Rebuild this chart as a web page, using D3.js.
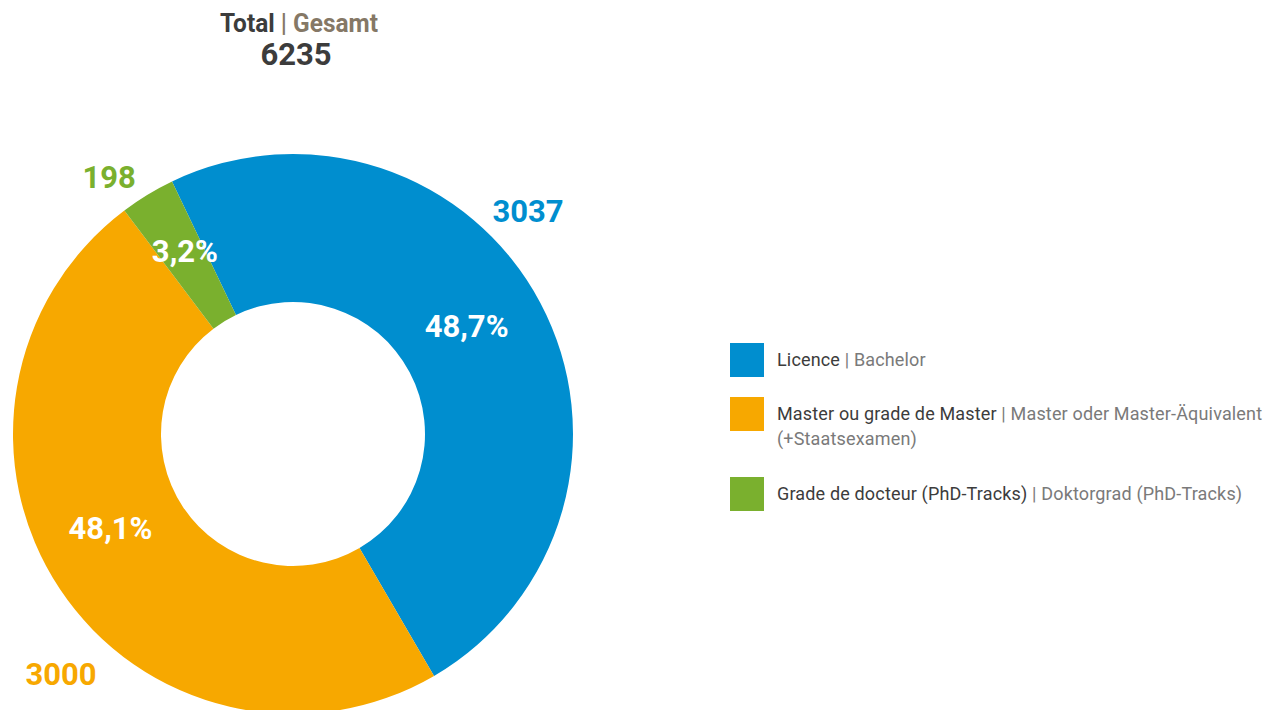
<!DOCTYPE html>
<html>
<head>
<meta charset="utf-8">
<script src="https://cdn.jsdelivr.net/npm/d3@7"></script>
<style>
  html, body { margin: 0; padding: 0; background: #fff; }
  svg { display: block; font-family: Roboto, "Noto Sans", sans-serif; }
</style>
</head>
<body>
<svg id="chart" width="1265" height="710"></svg>
<script>
// ---- data ----
const categoriesFr = ["Licence", "Master ou grade de Master", "Grade de docteur (PhD-Tracks)"];
const categoriesDe = ["Bachelor", "Master oder Master-Äquivalent", "Doktorgrad (PhD-Tracks)"];
const categoriesDeLine2 = ["", "(+Staatsexamen)", ""];
const values = [3037, 3000, 198];
const percentLabels = ["48,7%", "48,1%", "3,2%"];
const colors = ["#008ecf", "#f7a800", "#7ab02e"];
const totalValue = 6235;

// ---- layout ----
const svg = d3.select("#chart");
const cx = 293, cy = 434, rOuter = 280, rInner = 132;
const startDeg = -25.6;

const pie = d3.pie().sort(null)
  .startAngle(startDeg * Math.PI / 180)
  .endAngle((startDeg + 360) * Math.PI / 180);
const arcs = pie(values);
const arc = d3.arc().innerRadius(rInner).outerRadius(rOuter);

const g = svg.append("g").attr("transform", `translate(${cx},${cy})`);
g.selectAll("path.slice").data(arcs).enter().append("path")
  .attr("class", "slice")
  .attr("d", arc)
  .attr("fill", (d, i) => colors[i]);

function polar(angleDeg, r) {
  const a = angleDeg * Math.PI / 180;
  return [r * Math.sin(a), -r * Math.cos(a)];
}

// percent labels inside the ring
const pctAngles = [58.1, 242.9, -30.5];
const pctRadii = [204.5, 205, 213];
g.selectAll("text.pct").data(arcs).enter().append("text")
  .attr("class", "pct")
  .attr("x", (d, i) => polar(pctAngles[i], pctRadii[i])[0])
  .attr("y", (d, i) => polar(pctAngles[i], pctRadii[i])[1])
  .attr("dy", "0.36em")
  .attr("text-anchor", "middle")
  .attr("fill", "#fff")
  .attr("font-weight", 700)
  .attr("font-size", 31)
  .text((d, i) => percentLabels[i]);

// value labels outside the ring
const valueLabelAngles = [46.5, 224, -35.6];
const valueLabelRadii = [324, 334, 316];
g.selectAll("text.val").data(arcs).enter().append("text")
  .attr("class", "val")
  .attr("x", (d, i) => polar(valueLabelAngles[i], valueLabelRadii[i])[0])
  .attr("y", (d, i) => polar(valueLabelAngles[i], valueLabelRadii[i])[1])
  .attr("dy", "0.36em")
  .attr("text-anchor", "middle")
  .attr("fill", (d, i) => colors[i])
  .attr("font-weight", 700)
  .attr("font-size", 31)
  .text(d => d.value);

// title
const title = svg.append("text")
  .attr("x", 299).attr("y", 32)
  .attr("text-anchor", "middle")
  .attr("font-weight", 700)
  .attr("font-size", 25)
  .attr("textLength", 158)
  .attr("lengthAdjust", "spacingAndGlyphs");
title.append("tspan").attr("fill", "#3c3c3c").text("Total");
title.append("tspan").attr("fill", "#857866").text(" | Gesamt");

svg.append("text")
  .attr("x", 296).attr("y", 65)
  .attr("text-anchor", "middle")
  .attr("font-weight", 700)
  .attr("font-size", 31)
  .attr("fill", "#3c3c3c")
  .text(totalValue);

// legend
const legendTops = [343, 397, 477];
const legend = svg.append("g");
const items = legend.selectAll("g.item").data(categoriesFr).enter().append("g")
  .attr("class", "item")
  .attr("transform", (d, i) => `translate(730,${legendTops[i]})`);
items.append("rect")
  .attr("width", 34).attr("height", 34)
  .attr("fill", (d, i) => colors[i]);
const t = items.append("text")
  .attr("x", 47).attr("y", 22.7)
  .attr("font-size", 18)
  .attr("letter-spacing", 0.16);
t.append("tspan").attr("fill", "#3c3c3c").text(d => d);
t.append("tspan").attr("fill", "#7a7a7a").text((d, i) => " | " + categoriesDe[i]);
items.filter((d, i) => categoriesDeLine2[i] !== "")
  .append("text")
  .attr("x", 47).attr("y", 48.3)
  .attr("font-size", 18)
  .attr("letter-spacing", 0.16)
  .attr("fill", "#7a7a7a")
  .text(d => categoriesDeLine2[categoriesFr.indexOf(d)]);
</script>
</body>
</html>
